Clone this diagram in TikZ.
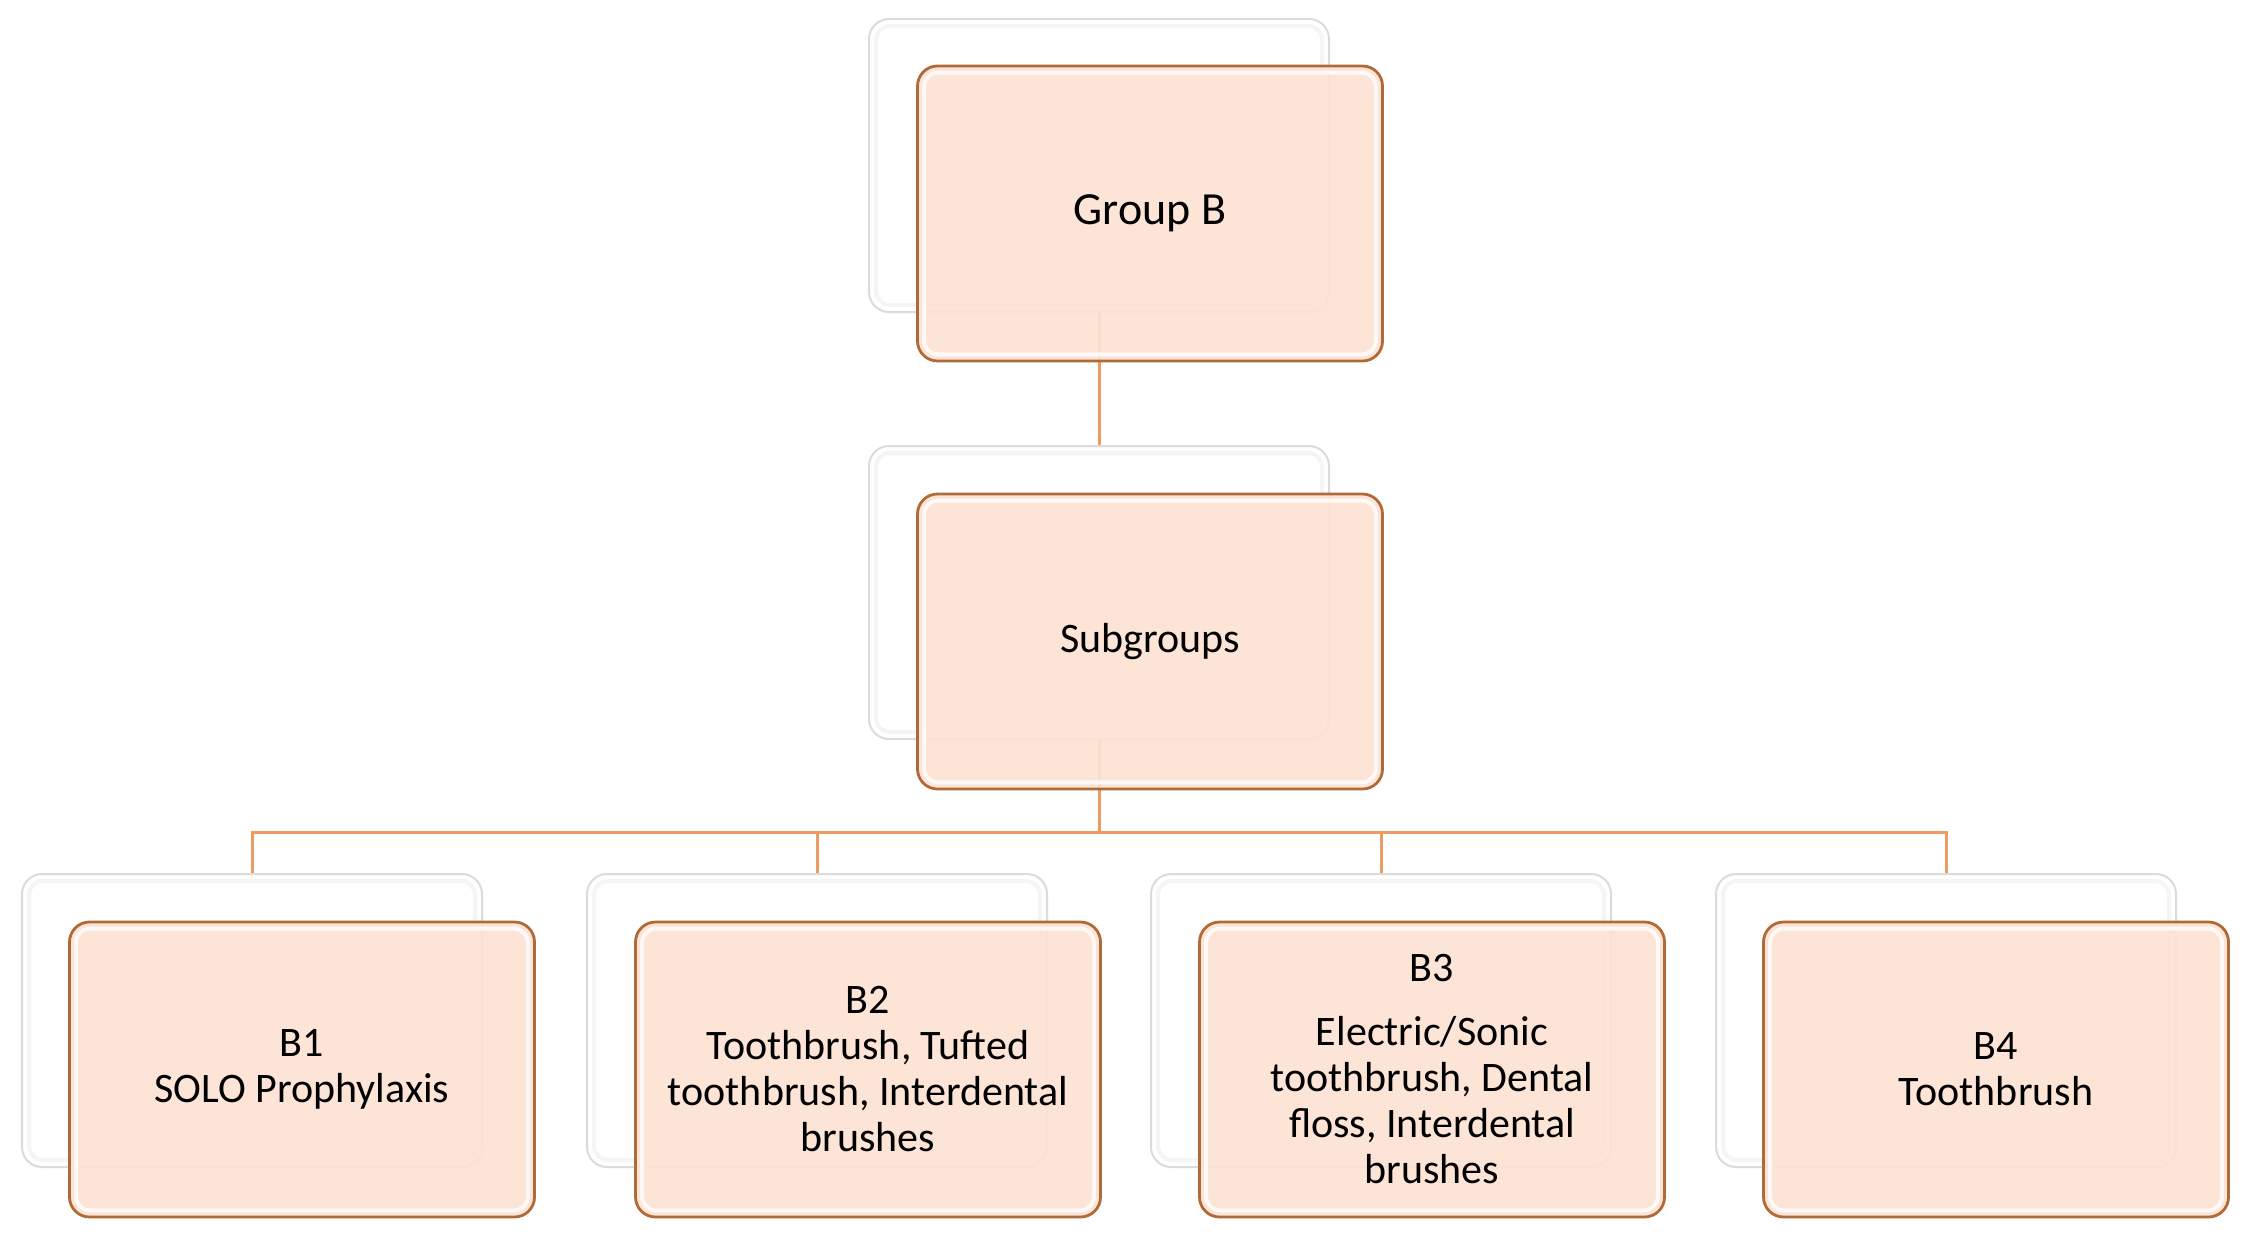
\documentclass[tikz,border=0pt]{standalone}
\usepackage{fontspec}
\setmainfont{Carlito}
\usepackage{tikz}
\usetikzlibrary{positioning}
\definecolor{peach}{HTML}{FCE2D4}
\definecolor{rust}{HTML}{B06A38}
\definecolor{wire}{HTML}{EE9B63}
\tikzset{thick, >=stealth, shine/.style={white, line width=2pt, rounded corners=7pt, opacity=0.8}}
\tikzstyle{back} = [rectangle, rounded corners=10pt, minimum width=230pt, minimum height=146.5pt, draw=gray!28, line width=1pt, fill=white]
\tikzstyle{front} = [rectangle, rounded corners=10pt, minimum width=232.5pt, minimum height=147.5pt, draw=rust, line width=1.4pt, fill=peach, fill opacity=0.92, text opacity=1, align=center, font=\fontsize{21}{23}\selectfont]
\tikzstyle{link} = [wire, line width=1.5pt]

\begin{document}
\begin{tikzpicture}[x=0.5pt, y=-0.5pt]
% 固定画布大小,与原图比例一致
\useasboundingbox (0,0) rectangle (2248,1237);
% 先画后面的白色卡片
\node[back] (gb-back) at (1099,165.5) {};
\node[back] (sg-back) at (1099,592.5) {};
\node[back] (b1-back) at (252,1020.5) {};
\node[back] (b2-back) at (817,1020.5) {};
\node[back] (b3-back) at (1381,1020.5) {};
\node[back] (b4-back) at (1946,1020.5) {};
% 白色卡片内侧的淡灰色阴影
\foreach \n in {gb,sg,b1,b2,b3,b4}
  \draw[gray!8, line width=2pt, rounded corners=7pt] ([xshift=4pt,yshift=-4pt]\n-back.north west) rectangle ([xshift=-4pt,yshift=4pt]\n-back.south east);
% 连线:从 Group B 到 Subgroups,再到总线 bus
\draw[link] (gb-back.south) -- (sg-back.north);
\coordinate (bus) at (1099,832);
\draw[link] (sg-back.south) -- (bus);
% 总线分到四个子组
\foreach \i in {1,...,4}
  \draw[link] (bus) -| (b\i-back.north);
% 前面的粉色卡片,相对后面卡片错开
\node[front, font=\fontsize{23}{26}\selectfont] (gb) at ([xshift=25.5pt,yshift=-24pt]gb-back.center) {Group B};
\node[front] (sg) at ([xshift=25.5pt,yshift=-24.5pt]sg-back.center) {Subgroups};
\node[front] (b1) at ([xshift=25pt,yshift=-24.5pt]b1-back.center) {B1\\SOLO Prophylaxis};
\node[front] (b2) at ([xshift=25.5pt,yshift=-24.5pt]b2-back.center) {B2\\Toothbrush, Tufted\\toothbrush, Interdental\\brushes};
\node[front] (b3) at ([xshift=25.5pt,yshift=-24.5pt]b3-back.center) {B3\\[9pt]Electric/Sonic\\toothbrush, Dental\\floss, Interdental\\brushes};
\node[front] (b4) at ([xshift=25pt,yshift=-24.5pt]b4-back.center) {B4\\Toothbrush};
% 粉色卡片内侧的白色高光
\foreach \n in {gb,sg,b1,b2,b3,b4}
  \draw[shine] ([xshift=4pt,yshift=-4pt]\n.north west) rectangle ([xshift=-4pt,yshift=4pt]\n.south east);
\end{tikzpicture}
\end{document}
